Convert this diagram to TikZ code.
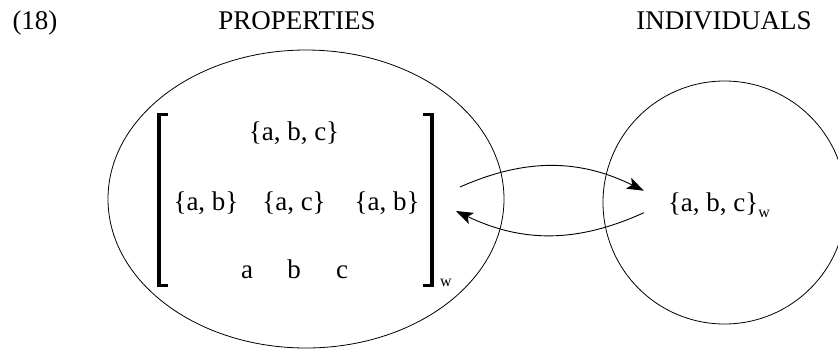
\documentclass[tikz,border=0pt]{standalone}
\usepackage{fontspec}
\setmainfont{Liberation Serif}
\usetikzlibrary{arrows.meta}

\begin{document}
\begin{tikzpicture}[x=1pt,y=-1pt,
    head/.style={font=\fontsize{27}{32}\selectfont, inner sep=0pt, anchor=base},
    elem/.style={font=\fontsize{27}{32}\selectfont, inner sep=0pt, anchor=base},
    brk/.style={line width=3.4pt},
    link/.style={line width=0.9pt, -{Stealth[length=17pt,width=12pt,inset=4pt]}}]
    \def\wsub{\raisebox{-6pt}{\fontsize{16}{16}\selectfont w}}
    \useasboundingbox (0,0) rectangle (838,349);
    % headings
    \node[head] (num) at (35,29) {(18)};
    \node[head] (hprop) at (297,29) {PROPERTIES};
    \node[head] (hind) at (724,29) {INDIVIDUALS};
    % the two domains
    \draw[line width=0.8pt] (306,199) ellipse [x radius=198pt, y radius=149pt];
    \draw[line width=0.8pt] (724.5,202.5) circle (121.5pt);
    % brackets
    \draw[brk] (168,114.5) -- (159,114.5) -- (159,285.5) -- (168,285.5);
    \draw[brk] (423,114.5) -- (432,114.5) -- (432,285.5) -- (423,285.5);
    \node[inner sep=0pt, anchor=base west] (wb) at (440,286) {\fontsize{16}{16}\selectfont w};
    % lattice of properties
    \node[elem] (abc) at (294,140) {\{a, b, c\}};
    \node[elem] (ab) at (206,210) {\{a, b\}};
    \node[elem] (ac) at (294,210) {\{a, c\}};
    \node[elem] (ab2) at (387,210) {\{a, b\}};
    \node[elem] (a) at (247,278) {a};
    \node[elem] (b) at (294,278) {b};
    \node[elem] (c) at (342,278) {c};
    % individual
    \node[elem, inner xsep=24pt] (indiv) at (719,211) {\{a, b, c\}\wsub};
    % arrows
    \coordinate (pout) at (460,187);
    \coordinate (pin) at (456,211);
    \draw[link] (pout) to[bend left=25] ([yshift=14pt]indiv.west);
    \draw[link] ([yshift=-8pt]indiv.west) to[bend left=25] (pin);
\end{tikzpicture}
\end{document}
